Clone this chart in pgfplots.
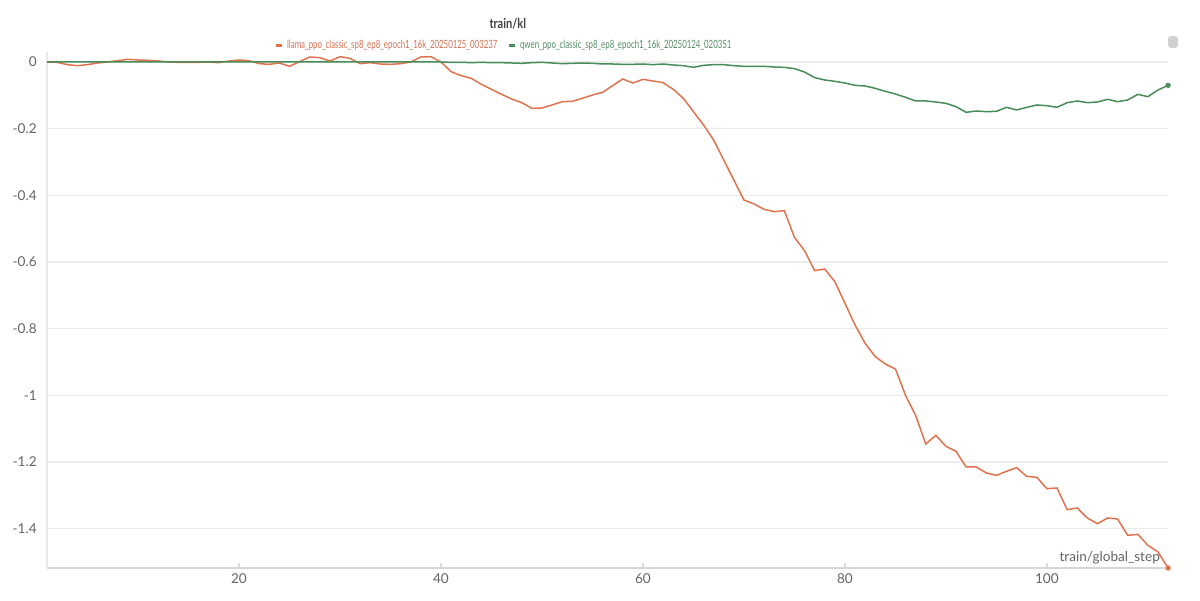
\documentclass[border=0pt]{standalone}
\usepackage{fontspec}
\setmainfont{Lato}
\newfontfamily\condfont[FakeStretch=0.69]{Lato}
\newfontfamily\titlefont[FakeStretch=0.8]{Lato}
\usepackage{pgfplots}
\pgfplotsset{compat=1.18}
\definecolor{llama}{RGB}{224,114,78}
\definecolor{llamatxt}{RGB}{214,112,82}
\definecolor{qwen}{RGB}{72,140,88}
\definecolor{qwentxt}{RGB}{84,140,100}
\definecolor{ticktxt}{RGB}{100,100,104}
\definecolor{gridc}{RGB}{236,236,238}
\begin{document}
\begin{tikzpicture}
\path[use as bounding box] (0,0) rectangle (600bp,300.5bp);
\fill[black!18, rounded corners=1.5bp] (584bp,276.5bp) rectangle (589bp,282.5bp);
\begin{axis}[
  at={(23.55bp,16.5bp)}, anchor=south west,
  scale only axis, width=560.5bp, height=258bp,
  xmin=1, xmax=112, ymin=-1.518, ymax=0.03,
  axis x line*=bottom, axis y line*=left,
  axis line style={draw=black!16, line width=0.6bp},
  every outer x axis line/.append style={-},
  every outer y axis line/.append style={-, draw=black!9},
  xtick={20,40,60,80,100},
  ytick={0,-0.2,-0.4,-0.6,-0.8,-1,-1.2,-1.4},
  yticklabels={0,-0.2,-0.4,-0.6,-0.8,-1,-1.2,-1.4},
  ymajorgrids, grid style={draw=gridc, line width=0.6bp},
  xtick align=inside, major tick length=2.5bp,
  xtick style={draw=black!14, line width=0.6bp},
  ytick style={draw=none},
  /pgf/number format/assume math mode=true,
  tick label style={font=\fontsize{6.8bp}{8bp}\selectfont, text=ticktxt},
  xticklabel style={anchor=north, inner sep=0pt, yshift=-2.8bp},
  yticklabel style={anchor=east, inner sep=0pt, xshift=-5bp},
  xlabel={train/global\_step},
  xlabel style={at={(axis description cs:0.993,0.019)}, anchor=east, inner sep=0pt,
    font=\fontsize{6.8bp}{8bp}\selectfont, text=ticktxt},
  title={\titlefont\bfseries train/kl},
  every axis title shift=0pt,
  title style={at={(axis description cs:0.411,1.054)}, anchor=center, inner sep=0pt,
    font=\fontsize{6.9bp}{8bp}\selectfont, text=black!75},
  legend columns=2,
  legend style={draw=none, fill=none, at={(axis description cs:0.4085,1.0125)}, anchor=center,
    font=\condfont\fontsize{5.7bp}{7bp}\selectfont, inner sep=0pt,
    /tikz/every even column/.append style={column sep=3bp}},
  legend image code/.code={\draw[#1, line width=1.1bp] (0bp,0bp) -- (3.2bp,0bp);},
  clip=false,
]
\addplot[llama, line width=0.75bp] coordinates {
(1,0) (2,-0.001) (3,-0.008) (4,-0.011) (5,-0.008) (6,-0.003) (7,0.0) (8,0.004) (9,0.008) (10,0.006)
(11,0.005) (12,0.003) (13,0.000) (14,-0.001) (15,-0.001) (16,-0.001) (17,0.000) (18,-0.002) (19,0.003) (20,0.006)
(21,0.004) (22,-0.005) (23,-0.007) (24,-0.003) (25,-0.013) (26,0.001) (27,0.015) (28,0.013) (29,0.003) (30,0.016)
(31,0.011) (32,-0.005) (33,-0.002) (34,-0.006) (35,-0.007) (36,-0.005) (37,0.000) (38,0.015) (39,0.016) (40,0.000)
(41,-0.029) (42,-0.041) (43,-0.049) (44,-0.067) (45,-0.082) (46,-0.097) (47,-0.111) (48,-0.122) (49,-0.139) (50,-0.138)
(51,-0.129) (52,-0.119) (53,-0.118) (54,-0.109) (55,-0.099) (56,-0.091) (57,-0.071) (58,-0.051) (59,-0.063) (60,-0.052)
(61,-0.057) (62,-0.062) (63,-0.082) (64,-0.109) (65,-0.149) (66,-0.189) (67,-0.234) (68,-0.294) (69,-0.354) (70,-0.414)
(71,-0.426) (72,-0.442) (73,-0.449) (74,-0.446) (75,-0.526) (76,-0.566) (77,-0.626) (78,-0.621) (79,-0.659) (80,-0.724)
(81,-0.789) (82,-0.844) (83,-0.884) (84,-0.906) (85,-0.921) (86,-1.000) (87,-1.060) (88,-1.146) (89,-1.120) (90,-1.153)
(91,-1.168) (92,-1.215) (93,-1.215) (94,-1.233) (95,-1.240) (96,-1.228) (97,-1.217) (98,-1.243) (99,-1.246) (100,-1.280)
(101,-1.278) (102,-1.343) (103,-1.338) (104,-1.368) (105,-1.385) (106,-1.368) (107,-1.371) (108,-1.420) (109,-1.417) (110,-1.450)
(111,-1.470) (112,-1.518)
};
\addlegendentry{\textcolor{llamatxt}{llama\_ppo\_classic\_sp8\_ep8\_epoch1\_16k\_20250125\_003237}}
\addplot[qwen, line width=0.75bp] coordinates {
(1,0) (2,0) (3,0) (4,0) (5,0) (6,0) (7,0) (8,0) (9,0) (10,0)
(11,0) (12,0) (13,0) (14,0) (15,0) (16,0) (17,0) (18,0) (19,0) (20,0)
(21,0) (22,0) (23,0) (24,0) (25,0) (26,0) (27,0) (28,0) (29,0) (30,0)
(31,0) (32,0) (33,0) (34,0) (35,0) (36,0) (37,0) (38,0) (39,0) (40,0)
(41,-0.001) (42,-0.001) (43,-0.002) (44,-0.001) (45,-0.002) (46,-0.002) (47,-0.003) (48,-0.004) (49,-0.002) (50,-0.001)
(51,-0.003) (52,-0.005) (53,-0.004) (54,-0.003) (55,-0.004) (56,-0.006) (57,-0.006) (58,-0.007) (59,-0.007) (60,-0.006)
(61,-0.008) (62,-0.006) (63,-0.009) (64,-0.011) (65,-0.016) (66,-0.010) (67,-0.008) (68,-0.008) (69,-0.011) (70,-0.013)
(71,-0.013) (72,-0.013) (73,-0.015) (74,-0.016) (75,-0.020) (76,-0.030) (77,-0.047) (78,-0.054) (79,-0.058) (80,-0.063)
(81,-0.070) (82,-0.072) (83,-0.079) (84,-0.088) (85,-0.096) (86,-0.106) (87,-0.117) (88,-0.117) (89,-0.120) (90,-0.124)
(91,-0.134) (92,-0.151) (93,-0.147) (94,-0.149) (95,-0.148) (96,-0.136) (97,-0.144) (98,-0.136) (99,-0.129) (100,-0.131)
(101,-0.136) (102,-0.122) (103,-0.117) (104,-0.122) (105,-0.120) (106,-0.112) (107,-0.119) (108,-0.114) (109,-0.097) (110,-0.104)
(111,-0.084) (112,-0.070)
};
\addlegendentry{\textcolor{qwentxt}{qwen\_ppo\_classic\_sp8\_ep8\_epoch1\_16k\_20250124\_020351}}
\addplot[forget plot, only marks, mark=*, mark size=1.1bp, llama] coordinates {(112,-1.518)};
\addplot[forget plot, only marks, mark=*, mark size=1.1bp, qwen] coordinates {(112,-0.070)};
\end{axis}
\end{tikzpicture}
\end{document}
